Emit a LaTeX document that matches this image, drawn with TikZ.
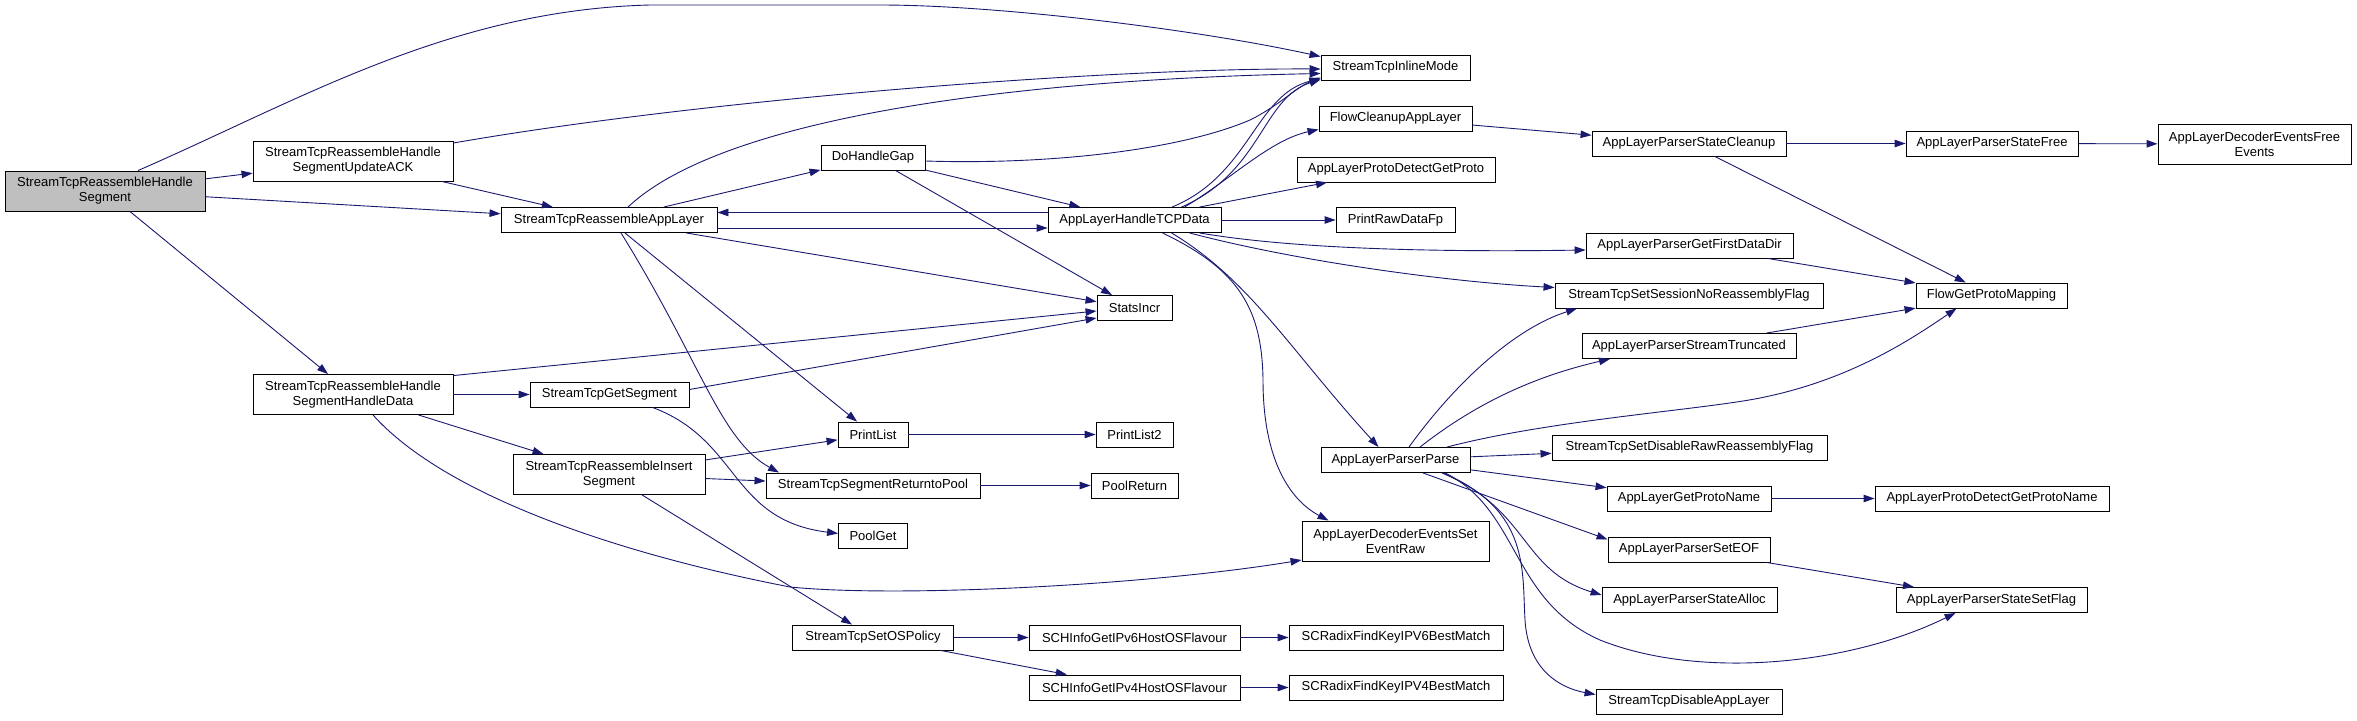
\documentclass[tikz,border=0pt]{standalone}
\usepackage{fontspec}
\setmainfont{Liberation Sans}
\usetikzlibrary{arrows.meta,calc}
\definecolor{edgeblue}{HTML}{191970}
\definecolor{rootgray}{HTML}{BFBFBF}
\begin{document}
\begin{tikzpicture}[x=1pt,y=-1pt,
  fn/.style={draw=black,line width=0.9pt,fill=white,inner sep=0pt,align=center,
    minimum height=25pt,font=\fontsize{13pt}{15pt}\selectfont},
  dbl/.style={fn,minimum height=40pt},
  edge/.style={draw=edgeblue,line width=0.9pt,-{Triangle[length=11pt,width=7.5pt]}}]
\useasboundingbox (0,0) rectangle (2357,720);
% nodes
\node[dbl,fill=rootgray,minimum width=200pt] (main) at (105,191) {StreamTcpReassembleHandle\\Segment};
\node[dbl,minimum width=200pt] (ack) at (353,161) {StreamTcpReassembleHandle\\SegmentUpdateACK};
\node[dbl,minimum width=200pt] (hdata) at (353,394.5) {StreamTcpReassembleHandle\\SegmentHandleData};
\node[fn,minimum width=216pt] (app) at (609,220) {StreamTcpReassembleAppLayer};
\node[fn,minimum width=159pt] (getseg) at (609.5,394.5) {StreamTcpGetSegment};
\node[dbl,minimum width=192pt] (insert) at (609,474.5) {StreamTcpReassembleInsert\\Segment};
\node[fn,minimum width=104pt] (gap) at (873,157.5) {DoHandleGap};
\node[fn,minimum width=173pt] (tcp) at (1134.5,220) {AppLayerHandleTCPData};
\node[fn,minimum width=75pt] (stats) at (1134.5,308) {StatsIncr};
\node[fn,minimum width=70pt] (plist) at (873,434.5) {PrintList};
\node[fn,minimum width=77pt] (plist2) at (1134.5,434.5) {PrintList2};
\node[fn,minimum width=214pt] (retpool) at (873,485.5) {StreamTcpSegmentReturntoPool};
\node[fn,minimum width=87pt] (poolret) at (1134.5,485.5) {PoolReturn};
\node[fn,minimum width=69pt] (poolget) at (873,535.5) {PoolGet};
\node[fn,minimum width=161pt] (ospol) at (873,637.5) {StreamTcpSetOSPolicy};
\node[fn,minimum width=211pt] (ipv6) at (1134.5,637.5) {SCHInfoGetIPv6HostOSFlavour};
\node[fn,minimum width=211pt] (ipv4) at (1134.5,687.5) {SCHInfoGetIPv4HostOSFlavour};
\node[fn,minimum width=149pt] (inl) at (1395.5,67.5) {StreamTcpInlineMode};
\node[fn,minimum width=153pt] (flowclean) at (1395.5,118.5) {FlowCleanupAppLayer};
\node[fn,minimum width=198pt] (getproto) at (1396,169.5) {AppLayerProtoDetectGetProto};
\node[fn,minimum width=119pt] (rawfp) at (1395.5,220) {PrintRawDataFp};
\node[fn,minimum width=149pt] (parse) at (1395.5,460) {AppLayerParserParse};
\node[dbl,minimum width=187pt] (evraw) at (1395.5,541) {AppLayerDecoderEventsSet\\EventRaw};
\node[fn,minimum width=214pt] (rad6) at (1396,637.5) {SCRadixFindKeyIPV6BestMatch};
\node[fn,minimum width=214pt] (rad4) at (1396,687.5) {SCRadixFindKeyIPV4BestMatch};
\node[fn,minimum width=194pt] (cleanup) at (1689,143.5) {AppLayerParserStateCleanup};
\node[fn,minimum width=207pt] (firstdir) at (1689.5,245.5) {AppLayerParserGetFirstDataDir};
\node[fn,minimum width=268pt] (noreasm) at (1689,295.5) {StreamTcpSetSessionNoReassemblyFlag};
\node[fn,minimum width=214pt] (trunc) at (1689,346) {AppLayerParserStreamTruncated};
\node[fn,minimum width=275pt] (disraw) at (1689.5,447.5) {StreamTcpSetDisableRawReassemblyFlag};
\node[fn,minimum width=164pt] (getpname) at (1689,498.5) {AppLayerGetProtoName};
\node[fn,minimum width=162pt] (seteof) at (1689,549.5) {AppLayerParserSetEOF};
\node[fn,minimum width=175pt] (salloc) at (1689.5,600) {AppLayerParserStateAlloc};
\node[fn,minimum width=186pt] (disapp) at (1689,701.5) {StreamTcpDisableAppLayer};
\node[fn,minimum width=172pt] (sfree) at (1992,143.5) {AppLayerParserStateFree};
\node[dbl,minimum width=193pt] (freeev) at (2254.5,144) {AppLayerDecoderEventsFree\\Events};
\node[fn,minimum width=151pt] (mapping) at (1991.5,295.5) {FlowGetProtoMapping};
\node[fn,minimum width=234pt] (pdgpn) at (1992,498.5) {AppLayerProtoDetectGetProtoName};
\node[fn,minimum width=191pt] (setflag) at (1991.5,600) {AppLayerParserStateSetFlag};
% edges from root
\draw[edge] ([xshift=33pt]main.north) .. controls (300,100) and (450,10) .. (650,5) -- (880,5) .. controls (1000,5) and (1200,30) .. ([yshift=-2pt]inl.north west);
\draw[edge] (main) -- (ack);
\draw[edge] (main) -- (app);
\draw[edge] (main) -- (hdata);
% UpdateACK
\draw[edge] ([yshift=18pt]ack.east) .. controls (700,100) and (1100,68) .. ([yshift=-1.5pt]inl.west);
\draw[edge] (ack) -- (app);
% HandleData
\draw[edge] ([yshift=-1.5pt]hdata.north east) -- ([yshift=-3pt]stats.west);
\draw[edge] (hdata) -- (getseg);
\draw[edge] (hdata) -- (insert);
\draw[edge] ([xshift=20pt]hdata.south) .. controls (440,490) and (600,550) .. (790,587) .. controls (900,598) and (1150,585) .. ([yshift=-19pt]evraw.west);
% ReassembleAppLayer
\draw[edge] ([xshift=19pt]app.north) .. controls (720,120) and (1000,80) .. ([yshift=-6pt]inl.west);
\draw[edge] (app) -- (gap);
\draw[edge] ([yshift=-8pt]app.east) -- ([yshift=-8pt]tcp.west);
\draw[edge] (app) -- (stats);
\draw[edge] (app) -- (plist);
\draw[edge] ([xshift=12pt]app.south) .. controls (700,360) and (720,440) .. ([xshift=-94pt]retpool.north);
% DoHandleGap
\draw[edge] ([yshift=-3.5pt]gap.east) .. controls (1050,165) and (1180,150) .. (1250,120) .. controls (1280,105) and (1295,88) .. ([yshift=-10pt]inl.west);
\draw[edge] (gap) -- (tcp);
\draw[edge] (gap) -- (stats);
% AppLayerHandleTCPData
\draw[edge] ([yshift=7.5pt]tcp.west) -- ([yshift=7.5pt]app.east);
\draw[edge] ([xshift=37.5pt]tcp.north) .. controls (1250,175) and (1255,95) .. ([yshift=-11pt]inl.west);
\draw[edge] ([xshift=47pt]tcp.north) .. controls (1262,172) and (1262,98) .. ([yshift=-12pt]inl.west);
\draw[edge] ([xshift=50pt]tcp.north) .. controls (1230,180) and (1270,140) .. ([yshift=-11pt]flowclean.west);
\draw[edge] ([xshift=65pt]tcp.north) -- ([xshift=-69pt]getproto.south);
\draw[edge] (tcp) -- (rawfp);
\draw[edge] ([xshift=65pt]tcp.south) .. controls (1300,250) and (1450,252) .. ([yshift=-4.5pt]firstdir.west);
\draw[edge] ([xshift=55pt]tcp.south) .. controls (1300,262) and (1450,282) .. ([yshift=8pt]noreasm.west);
\draw[edge] ([xshift=37pt]tcp.south) .. controls (1250,280) and (1290,350) .. ([xshift=-17pt]parse.north);
\draw[edge] ([xshift=28pt]tcp.south) .. controls (1240,270) and (1262,310) .. (1263,380) .. controls (1263,460) and (1290,500) .. ([xshift=-67pt]evraw.north);
% GetSegment
\draw[edge] ([yshift=5pt]getseg.east) -- ([yshift=-10pt]stats.west);
\draw[edge] ([xshift=43pt]getseg.south) .. controls (740,440) and (730,520) .. ([yshift=2pt]poolget.west);
% InsertSegment
\draw[edge] (insert) -- (plist);
\draw[edge] (insert) -- (retpool);
\draw[edge] (insert) -- (ospol);
% simple chains
\draw[edge] (plist) -- (plist2);
\draw[edge] (retpool) -- (poolret);
\draw[edge] (ospol) -- (ipv6);
\draw[edge] (ospol) -- (ipv4);
\draw[edge] (ipv6) -- (rad6);
\draw[edge] (ipv4) -- (rad4);
\draw[edge] (flowclean) -- (cleanup);
\draw[edge] (cleanup) -- (sfree);
\draw[edge] (sfree) -- (freeev);
\draw[edge] (cleanup) -- (mapping);
\draw[edge] (firstdir) -- (mapping);
\draw[edge] (trunc) -- (mapping);
\draw[edge] (getpname) -- (pdgpn);
\draw[edge] (seteof) -- (setflag);
% AppLayerParserParse
\draw[edge] ([xshift=13.5pt]parse.north) .. controls (1450,390) and (1510,330) .. ([xshift=-112pt]noreasm.south);
\draw[edge] ([xshift=24.5pt]parse.north) .. controls (1480,400) and (1540,375) .. ([xshift=-79pt]trunc.south);
\draw[edge] ([xshift=51.5pt]parse.north) .. controls (1550,420) and (1700,410) .. (1760,398) .. controls (1850,380) and (1910,340) .. ([xshift=-35pt]mapping.south);
\draw[edge] (parse) -- (disraw);
\draw[edge] (parse) -- (getpname);
\draw[edge] ([xshift=27.5pt]parse.south) -- ([yshift=10pt]seteof.west);
\draw[edge] ([xshift=46.5pt]parse.south) .. controls (1530,510) and (1520,570) .. ([yshift=5pt]salloc.west);
\draw[edge] ([xshift=49.5pt]parse.south) .. controls (1520,510) and (1510,600) .. (1600,640) .. controls (1700,680) and (1850,665) .. ([xshift=-36pt]setflag.south);
\draw[edge] ([xshift=47.5pt]parse.south) .. controls (1530,510) and (1522,570) .. (1525,620) .. controls (1528,670) and (1560,688) .. ([yshift=7pt]disapp.west);
\end{tikzpicture}
\end{document}
